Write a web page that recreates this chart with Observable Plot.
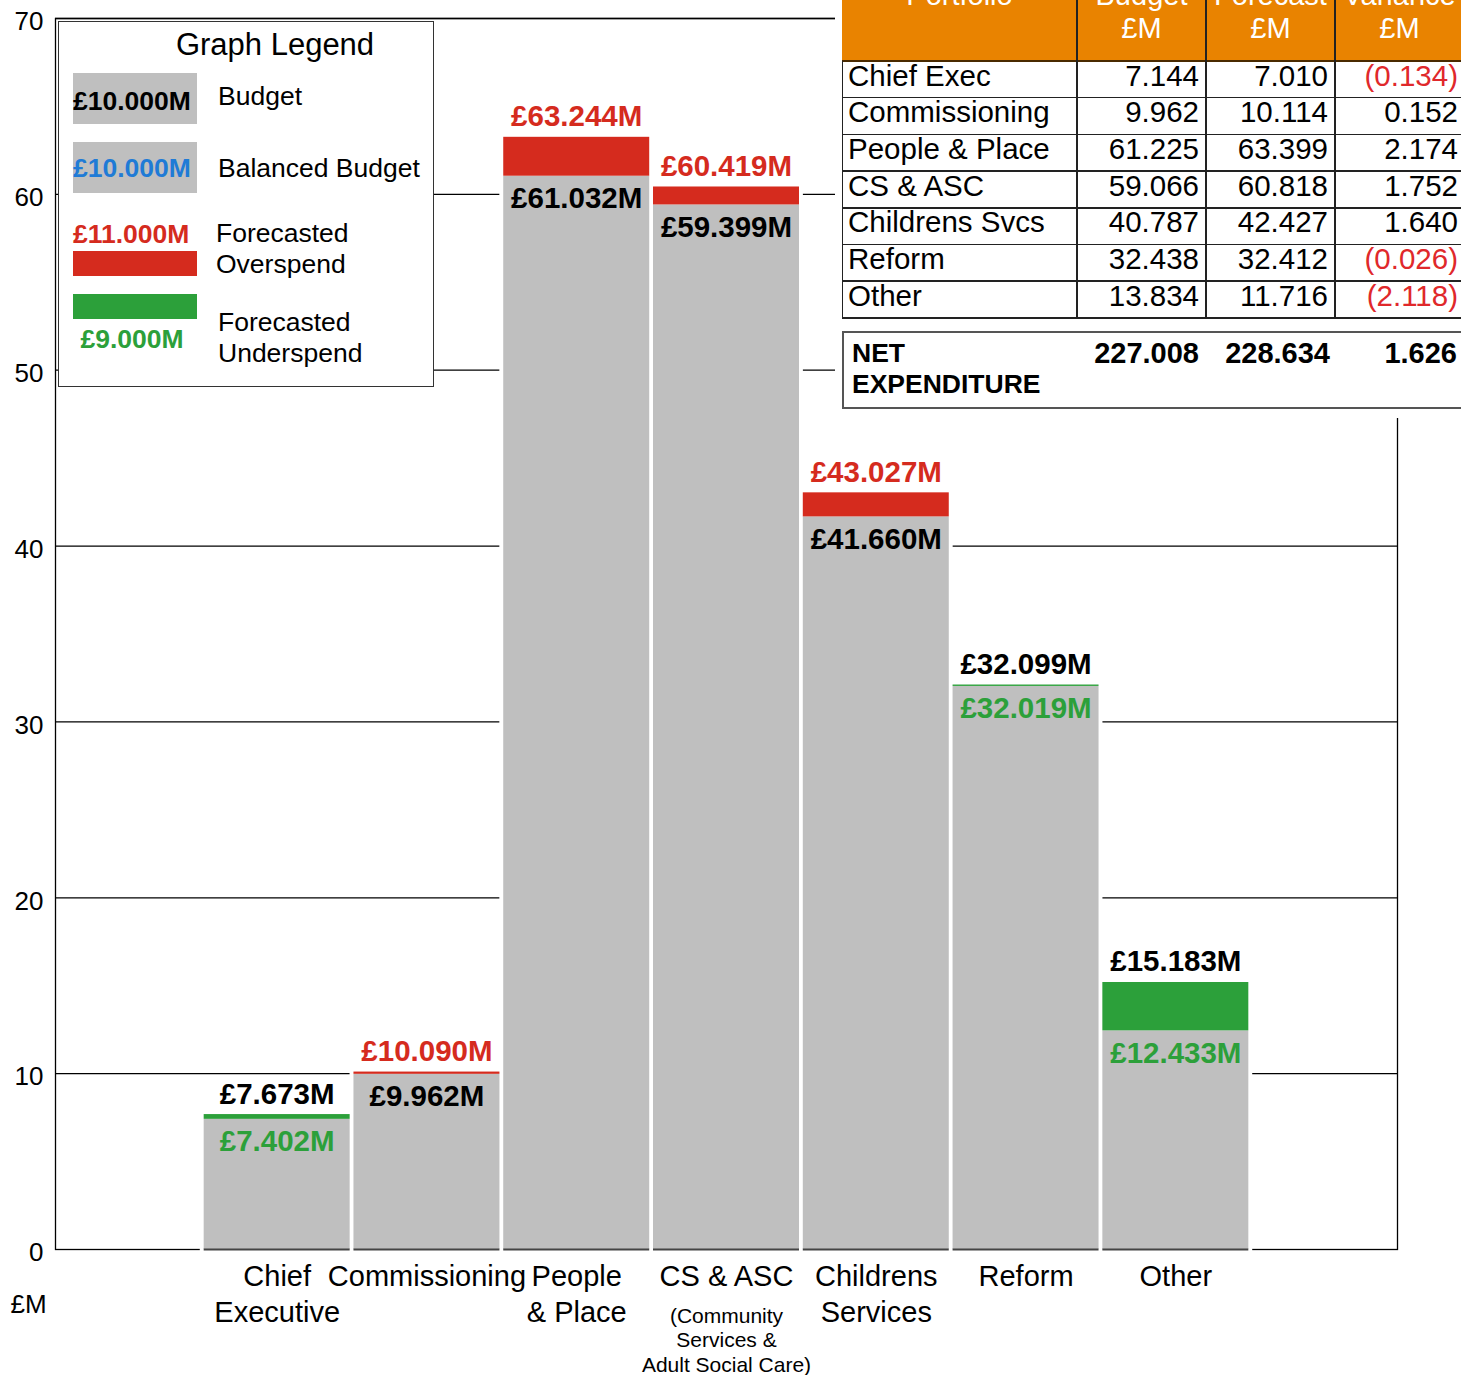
<!DOCTYPE html>
<html><head><meta charset="utf-8">
<script src="https://cdn.jsdelivr.net/npm/d3@7"></script>
<script src="https://cdn.jsdelivr.net/npm/@observablehq/plot@0.6"></script>
<style>
body{margin:0;background:#fff;}
#wrap{position:relative;width:1461px;height:1375px;overflow:hidden;font-family:"Liberation Sans",Arial,sans-serif;color:#000;}
#wrap svg{position:absolute;left:0;top:0;}
.abs{position:absolute;white-space:nowrap;line-height:1;}
</style></head><body><div id="wrap"></div>
<script>
// ---------- chart data ----------
const categories = ["Chief Executive","Commissioning","People & Place","CS & ASC","Childrens Services","Reform","Other"];
const axisLabels = ["Chief\nExecutive","Commissioning","People\n& Place","CS & ASC","Childrens\nServices","Reform","Other"];
const subLabelCategory = ["CS & ASC"];
const subLabelText = ["(Community\nServices &\nAdult Social Care)"];
const budget   = [7.673, 9.962, 61.032, 59.399, 41.660, 32.099, 15.183];
const forecast = [7.402, 10.090, 63.244, 60.419, 43.027, 32.019, 12.433];
const yTicks = [0, 10, 20, 30, 40, 50, 60, 70];
const yUnit = "£M";

// ---------- table data ----------
const tableHeaders = [["Portfolio",""],["Budget","£M"],["Forecast","£M"],["Variance","£M"]];
const tablePortfolio = ["Chief Exec","Commissioning","People & Place","CS & ASC","Childrens Svcs","Reform","Other"];
const tableBudget   = [7.144, 9.962, 61.225, 59.066, 40.787, 32.438, 13.834];
const tableForecast = [7.010, 10.114, 63.399, 60.818, 42.427, 32.412, 11.716];
const tableVariance = [-0.134, 0.152, 2.174, 1.752, 1.640, -0.026, -2.118];
const netLabel = ["NET", "EXPENDITURE"];
const netValues = [227.008, 228.634, 1.626];

// ---------- legend data ----------
const legendTitle = "Graph Legend";
const legendSample = ["£10.000M", "£10.000M", "£11.000M", "£9.000M"];
const legendNames = [["Budget"], ["Balanced Budget"], ["Forecasted", "Overspend"], ["Forecasted", "Underspend"]];

const GRAY = "#BFBFBF", RED = "#D52B1E", GREEN = "#2CA03A", BLUE = "#1F7BD6", ORANGE = "#E98300";
const FONT = "Liberation Sans, Arial, sans-serif";

const data = categories.map((c, i) => ({
  c, budget: budget[i], forecast: forecast[i],
  lo: Math.min(budget[i], forecast[i]), hi: Math.max(budget[i], forecast[i]),
  over: forecast[i] > budget[i]
}));
const subLabels = subLabelCategory.map((c, i) => ({c, t: subLabelText[i]}));
const fmt = v => "£" + d3.format(".3f")(v) + "M";
const INS = 1.9;

const chart = Plot.plot({
  width: 1461, height: 1375,
  marginLeft: 55, marginRight: 64, marginTop: 18, marginBottom: 126,
  style: {fontFamily: FONT, background: "white", color: "#000", overflow: "visible"},
  x: {type: "band", domain: categories, paddingInner: 0, paddingOuter: 0.98, round: false},
  y: {domain: [0, 70]},
  marks: [
    Plot.ruleY(yTicks.filter(d => d > 0), {stroke: "#000", strokeWidth: 1.3}),
    Plot.frame({stroke: "#000", strokeWidth: 1.3}),
    Plot.barY(data, {x: "c", y1: 0, y2: "hi", fill: "white", stroke: "white", strokeWidth: 4}),
    Plot.barY(data, {x: "c", y1: 0, y2: "lo", fill: GRAY, insetLeft: INS, insetRight: INS}),
    Plot.barY(data.filter(d => d.over), {x: "c", y1: "lo", y2: "hi", fill: RED, insetLeft: INS, insetRight: INS}),
    Plot.barY(data.filter(d => !d.over), {x: "c", y1: "lo", y2: "hi", fill: GREEN, insetLeft: INS, insetRight: INS}),
    Plot.tickY(data, {x: "c", y: 0, stroke: "#444", strokeWidth: 2, insetLeft: INS, insetRight: INS}),
    Plot.axisY({ticks: yTicks, tickSize: 0, tickPadding: 12, fontSize: 26, dy: 3.5, label: null, tickFormat: d => String(d)}),
    Plot.axisX({tickSize: 0, tickPadding: 11, fontSize: 29, lineHeight: 1.24, label: null,
      tickFormat: d => axisLabels[categories.indexOf(d)]}),
    Plot.text(subLabels, {x: "c", text: "t", frameAnchor: "bottom", dy: 55.6, lineAnchor: "top", lineHeight: 1.167, fontSize: 21}),
    Plot.text([yUnit], {frameAnchor: "bottom-left", dx: -45, dy: 63, textAnchor: "start", lineAnchor: "bottom", fontSize: 26}),
    // labels above bars
    Plot.text(data, {x: "c", y: "hi", text: d => fmt(d.hi), fill: d => d.over ? RED : "#000",
      lineAnchor: "bottom", dy: -11, fontSize: 29.5, fontWeight: "bold"}),
    // labels inside bars
    Plot.text(data, {x: "c", y: "lo", text: d => fmt(d.lo), fill: d => d.over ? "#000" : GREEN,
      lineAnchor: "bottom", dy: 32, fontSize: 29.5, fontWeight: "bold"})
  ]
});
const wrap = document.getElementById("wrap");
wrap.appendChild(chart);

function box(styles, text) {
  const d = document.createElement("div");
  d.className = "abs";
  Object.assign(d.style, styles);
  if (text != null) d.textContent = text;
  wrap.appendChild(d);
  return d;
}
const px = v => v + "px";

// ---------- legend ----------
box({left: px(58), top: px(21), width: px(374), height: px(364), border: "1.5px solid #333", background: "#fff"});
box({left: px(116), top: px(28.8), width: px(318), textAlign: "center", fontSize: "31px"}, legendTitle);
// budget swatch
box({left: px(73), top: px(73), width: px(124), height: px(51), background: GRAY});
box({left: px(73), top: px(88), fontSize: "26.5px", fontWeight: "bold", color: "#000"}, legendSample[0]);
box({left: px(218), top: px(83), fontSize: "26.5px"}, legendNames[0][0]);
// balanced swatch
box({left: px(73), top: px(142), width: px(124), height: px(51), background: GRAY});
box({left: px(73), top: px(154.7), fontSize: "26.5px", fontWeight: "bold", color: BLUE}, legendSample[1]);
box({left: px(218), top: px(154.7), fontSize: "26.5px"}, legendNames[1][0]);
// overspend
box({left: px(73), top: px(220.7), fontSize: "26.5px", fontWeight: "bold", color: RED}, legendSample[2]);
box({left: px(73), top: px(251), width: px(124), height: px(25), background: RED});
box({left: px(216), top: px(219.7), fontSize: "26.5px"}, legendNames[2][0]);
box({left: px(216), top: px(251.3), fontSize: "26.5px"}, legendNames[2][1]);
// underspend
box({left: px(73), top: px(294), width: px(124), height: px(25), background: GREEN});
box({left: px(70), top: px(325.7), width: px(124), textAlign: "center", fontSize: "26.5px", fontWeight: "bold", color: GREEN}, legendSample[3]);
box({left: px(218), top: px(309), fontSize: "26.5px"}, legendNames[3][0]);
box({left: px(218), top: px(339.7), fontSize: "26.5px"}, legendNames[3][1]);

// ---------- table ----------
const colX = [842, 1077, 1206, 1335, 1464];
const headBottom = 61, rowH = 36.7, nRows = tablePortfolio.length;
const tableBottom = headBottom + rowH * nRows;
box({left: px(835), top: px(0), width: px(626), height: px(418), background: "#fff"});
box({left: px(842), top: px(0), width: px(630), height: px(headBottom), background: ORANGE});
tableHeaders.forEach((h, j) => {
  const l = colX[j], w = colX[j + 1] - colX[j];
  box({left: px(l), top: px(-19.5), width: px(w), textAlign: "center", fontSize: "29px", color: "#fff"}, h[0]);
  if (h[1]) box({left: px(l), top: px(13.5), width: px(w), textAlign: "center", fontSize: "29px", color: "#fff"}, h[1]);
});
// grid lines
for (let i = 1; i <= nRows; i++) {
  box({left: px(842), top: px(headBottom + rowH * i - 0.75), width: px(630), height: px(1.5), background: "#222"});
}
box({left: px(842), top: px(headBottom - 1), width: px(630), height: px(2), background: "#4a2a00"});
box({left: px(841.5), top: px(headBottom), width: px(1.5), height: px(tableBottom - headBottom), background: "#222"});
[1, 2, 3].forEach(j => box({left: px(colX[j] - 0.75), top: px(0), width: px(1.5), height: px(tableBottom), background: "#222"}));
const numFmt = d3.format(".3f");
tablePortfolio.forEach((p, i) => {
  const t = headBottom + rowH * i - 0.5;
  box({left: px(848), top: px(t), fontSize: "29.5px"}, p);
  [tableBudget[i], tableForecast[i]].forEach((v, k) => {
    box({left: px(colX[k + 1]), top: px(t), width: px(colX[k + 2] - colX[k + 1] - 7), textAlign: "right", fontSize: "29.5px"}, numFmt(v));
  });
  const v = tableVariance[i];
  box({left: px(colX[3]), top: px(t), width: px(1458 - colX[3]), textAlign: "right", fontSize: "29.5px", color: v < 0 ? "#E0282B" : "#000"},
    v < 0 ? "(" + numFmt(-v) + ")" : numFmt(v));
});
// net expenditure box
box({left: px(842), top: px(331), width: px(640), height: px(74), border: "2px solid #555"});
box({left: px(852), top: px(340), fontSize: "26.5px", fontWeight: "bold"}, netLabel[0]);
box({left: px(852), top: px(371), fontSize: "26.5px", fontWeight: "bold"}, netLabel[1]);
netValues.forEach((v, k) => {
  const right = [1199, 1330, 1457][k];
  box({left: px(colX[k + 1] - 40), top: px(338.5), width: px(right - colX[k + 1] + 40), textAlign: "right", fontSize: "29px", fontWeight: "bold"}, numFmt(v));
});
</script></body></html>
